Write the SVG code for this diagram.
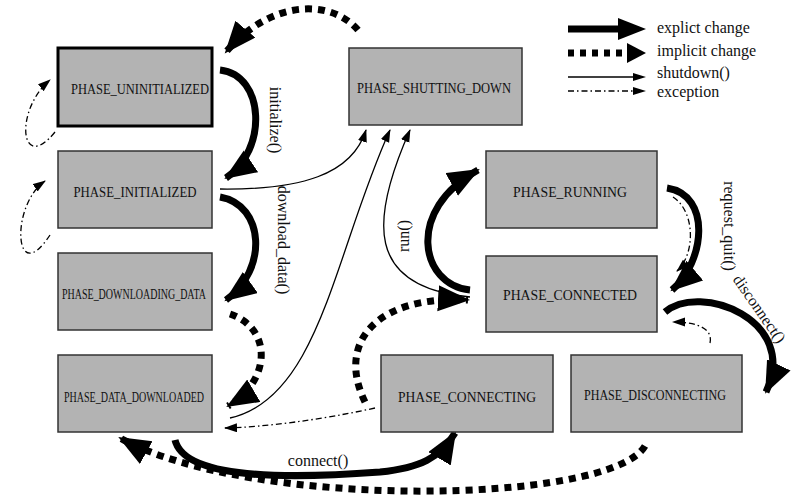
<svg xmlns="http://www.w3.org/2000/svg" width="800" height="496" viewBox="0 0 800 496">
<defs>
<style>
.n{fill:#b3b3b3;stroke:#333;stroke-width:1.5}
.t{font-family:"Liberation Serif","DejaVu Serif",serif;font-size:15px;fill:#111;text-anchor:middle}
.l{font-family:"Liberation Serif","DejaVu Serif",serif;font-size:16px;fill:#111}
.ex{fill:none;stroke:#000;stroke-width:7;marker-end:url(#big)}
.im{fill:none;stroke:#000;stroke-width:7;stroke-dasharray:7 6;marker-end:url(#big)}
.sd{fill:none;stroke:#000;stroke-width:1.3;marker-end:url(#sm)}
.ec{fill:none;stroke:#000;stroke-width:1.3;stroke-dasharray:6 3 1.5 3;marker-end:url(#sm)}
</style>
<marker id="big" markerUnits="userSpaceOnUse" markerWidth="36" markerHeight="30" refX="30" refY="13" orient="auto"><path d="M0,0 L32,13 L0,26 Z"/></marker>
<marker id="sm" markerUnits="userSpaceOnUse" markerWidth="14" markerHeight="10" refX="12" refY="4.5" orient="auto"><path d="M0,0 L13,4.5 L0,9 Z"/></marker>
</defs>
<g id="connectors">
<path class="ex" d="M220,70 C265,75 268,150 226,178"/>
<path class="ex" d="M220,197 C265,205 268,270 226,300"/>
<path class="ex" d="M470,290 C420,285 405,210 478,170"/>
<path class="ex" d="M667,188 C712,195 705,262 672,290"/>
<path class="ex" d="M665,312 C700,282 800,320 766,392"/>
<path class="ex" d="M175,440 C185,482 300,478 380,472 C420,468 440,458 455,433"/>
<path class="im" d="M358,30 C330,-2 270,0 226,52"/>
<path class="im" d="M230,314 C272,328 272,380 228,406"/>
<path class="im" d="M365,402 C335,340 380,295 468,300"/>
<path class="im" d="M645,446 C610,505 250,510 120,438"/>
<path class="sd" d="M220,189 C300,190 352,175 366,130"/>
<path class="sd" d="M230,418 C320,398 335,250 390,130"/>
<path class="sd" d="M470,297 C365,287 370,220 410,130"/>
<path class="ec" d="M55,132 C20,175 14,110 50,80"/>
<path class="ec" d="M50,235 C14,290 10,205 45,181"/>
<path class="ec" d="M673,197 C696,212 695,255 677,271"/>
<path class="ec" d="M710,343 C713,330 700,322 673,322"/>
<path class="ec" d="M375,408 C320,420 265,427 225,428"/>
<path d="M568,29 H620" stroke="#000" stroke-width="7"/><path d="M618,18 L646,29 L618,40 Z"/>
<path d="M568,53 H626" stroke="#000" stroke-width="7" stroke-dasharray="6 6"/><path d="M627,43 L646,53 L627,63 Z"/>
<path d="M568,77 H640" stroke="#000" stroke-width="1.3"/><path d="M633,73 L646,77 L633,81 Z"/>
<path d="M568,91 H640" stroke="#000" stroke-width="1.3" stroke-dasharray="6 3 1.5 3"/><path d="M633,87 L646,91 L633,95 Z"/>
</g>
<g id="legend">
<text class="l" x="657" y="33">explict change</text>
<text class="l" x="657" y="56">implicit change</text>
<text class="l" x="657" y="78">shutdown()</text>
<text class="l" x="657" y="97">exception</text>
</g>
<g id="labels" font-family="Liberation Serif,DejaVu Serif,serif" font-size="16" fill="#111" text-anchor="middle">
<text transform="translate(270,120) rotate(90)">initialize()</text>
<text transform="translate(278,240) rotate(90)">download_data()</text>
<text transform="translate(409,236) rotate(-90)">run()</text>
<text transform="translate(724,226) rotate(90)">request_quit()</text>
<text transform="translate(755,312) rotate(55)">disconnect()</text>
<text x="318" y="466">connect()</text>
</g>
<g id="PHASE_UNINITIALIZED"><rect class="n" x="58" y="48" width="154" height="78" style="stroke:#000;stroke-width:3"/><text class="t" x="140" y="94" textLength="138" lengthAdjust="spacingAndGlyphs">PHASE_UNINITIALIZED</text></g>
<g id="PHASE_INITIALIZED"><rect class="n" x="58" y="151" width="154" height="77"/><text class="t" x="135" y="197" textLength="123" lengthAdjust="spacingAndGlyphs">PHASE_INITIALIZED</text></g>
<g id="PHASE_DOWNLOADING_DATA"><rect class="n" x="58" y="253" width="154" height="77"/><text class="t" x="134" y="299" textLength="144" lengthAdjust="spacingAndGlyphs">PHASE_DOWNLOADING_DATA</text></g>
<g id="PHASE_DATA_DOWNLOADED"><rect class="n" x="58" y="355" width="154" height="77"/><text class="t" x="134" y="402" textLength="140" lengthAdjust="spacingAndGlyphs">PHASE_DATA_DOWNLOADED</text></g>
<g id="PHASE_SHUTTING_DOWN"><rect class="n" x="349" y="48" width="173" height="77"/><text class="t" x="434" y="93" textLength="154" lengthAdjust="spacingAndGlyphs">PHASE_SHUTTING_DOWN</text></g>
<g id="PHASE_RUNNING"><rect class="n" x="486" y="151" width="171" height="77"/><text class="t" x="570" y="197" textLength="114" lengthAdjust="spacingAndGlyphs">PHASE_RUNNING</text></g>
<g id="PHASE_CONNECTED"><rect class="n" x="486" y="256" width="171" height="76"/><text class="t" x="570" y="300" textLength="134" lengthAdjust="spacingAndGlyphs">PHASE_CONNECTED</text></g>
<g id="PHASE_CONNECTING"><rect class="n" x="381" y="355" width="172" height="77"/><text class="t" x="467" y="402" textLength="138" lengthAdjust="spacingAndGlyphs">PHASE_CONNECTING</text></g>
<g id="PHASE_DISCONNECTING"><rect class="n" x="571" y="355" width="171" height="77"/><text class="t" x="655" y="400" textLength="142" lengthAdjust="spacingAndGlyphs">PHASE_DISCONNECTING</text></g>
</svg>
